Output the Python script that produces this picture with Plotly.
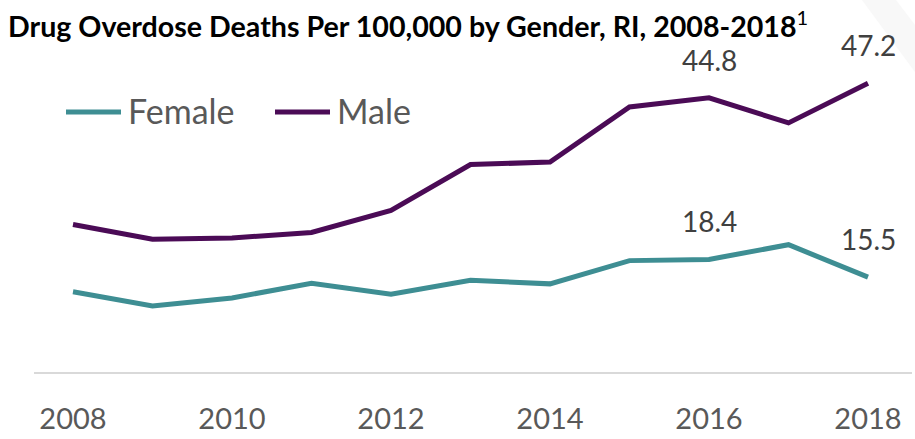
import plotly.graph_objects as go

# Rhode Island drug overdose deaths per 100,000, by gender
years = list(range(2008, 2019))
female = [13.1, 10.8, 12.1, 14.5, 12.7, 15.0, 14.4, 18.2, 18.4, 20.8, 15.5]
male = [24.1, 21.7, 21.9, 22.8, 26.4, 33.9, 34.3, 43.3, 44.8, 40.7, 47.2]
series_names = ["Female", "Male"]
series_colors = ["#3E8E93", "#4B0B56"]
label_years = [2016, 2018]
tick_years = [2008, 2010, 2012, 2014, 2016, 2018]
title_text = "Drug Overdose Deaths Per 100,000 by Gender, RI, 2008-2018"
footnote_mark = "1"

# Page geometry (pixels)
W, H = 915, 439
ML, MR, MT, MB = 34, 3, 20, 67
PW, PH = W - ML - MR, H - MT - MB
FONT = "Lato, 'Open Sans', sans-serif"


def px_x(px):
    return (px - ML) / PW


def px_y(py):
    return (H - MB - py) / PH


fig = go.Figure()
series = [female, male]
for name, vals, color in zip(series_names, series, series_colors):
    fig.add_trace(go.Scatter(
        x=years, y=vals, name=name, mode="lines",
        line=dict(color=color, width=5),
        showlegend=False, hoverinfo="x+y",
    ))

# value labels above selected points
annotations = []
for vals in series:
    for yr in label_years:
        v = vals[years.index(yr)]
        annotations.append(dict(
            x=yr, y=v, xref="x", yref="y", text=f"{v:.1f}",
            showarrow=False, yshift=38, yanchor="middle", xanchor="center",
            font=dict(family=FONT, size=28, color="#404040"),
        ))

# hand-built legend: long line swatch followed by the series name
shapes = []
legend_items = [(66, 121, 126), (275, 330, 335)]
for (x0, x1, tx), name, color in zip(legend_items, series_names, series_colors):
    shapes.append(dict(
        type="line", xref="paper", yref="paper",
        x0=px_x(x0), x1=px_x(x1), y0=px_y(112), y1=px_y(112),
        line=dict(color=color, width=5),
    ))
    annotations.append(dict(
        x=px_x(tx), y=px_y(110), xref="paper", yref="paper", text=name,
        showarrow=False, xanchor="left", yanchor="middle",
        font=dict(family=FONT, size=34, color="#595959"),
    ))

# faint page-curl shading in the top-right corner
shapes.append(dict(
    type="path", xref="paper", yref="paper", layer="below",
    path=(f"M{px_x(862)},{px_y(0)} L{px_x(896)},{px_y(0)} "
          f"L{px_x(915)},{px_y(25)} L{px_x(915)},{px_y(72)} Z"),
    fillcolor="#f8f8f8", line=dict(width=0),
))

px_per_year = (868 - 73) / 10
x_lo = 2008 - (73 - ML) / px_per_year
x_hi = 2008 + (W - MR - 73) / px_per_year
y_hi = PH / 6.12

fig.update_layout(
    width=W, height=H,
    margin=dict(l=ML, r=MR, t=MT, b=MB),
    paper_bgcolor="white", plot_bgcolor="white",
    title=dict(
        text=f"<b>{title_text}</b><sup>{footnote_mark}</sup>",
        xref="container", yref="container",
        x=8 / W, xanchor="left", y=1 - 27 / H, yanchor="middle",
        font=dict(family=FONT, size=28.6, color="black"),
    ),
    xaxis=dict(
        range=[x_lo, x_hi], tickvals=tick_years,
        ticktext=[str(t) for t in tick_years],
        showgrid=False, zeroline=False,
        showline=True, linecolor="#d9d9d9", linewidth=2,
        ticks="outside", ticklen=20, tickcolor="rgba(0,0,0,0)",
        tickfont=dict(family=FONT, size=29, color="#595959"),
    ),
    yaxis=dict(range=[0, y_hi], visible=False, showgrid=False),
    annotations=annotations,
    shapes=shapes,
    showlegend=False,
)

fig.write_html("out.html")
